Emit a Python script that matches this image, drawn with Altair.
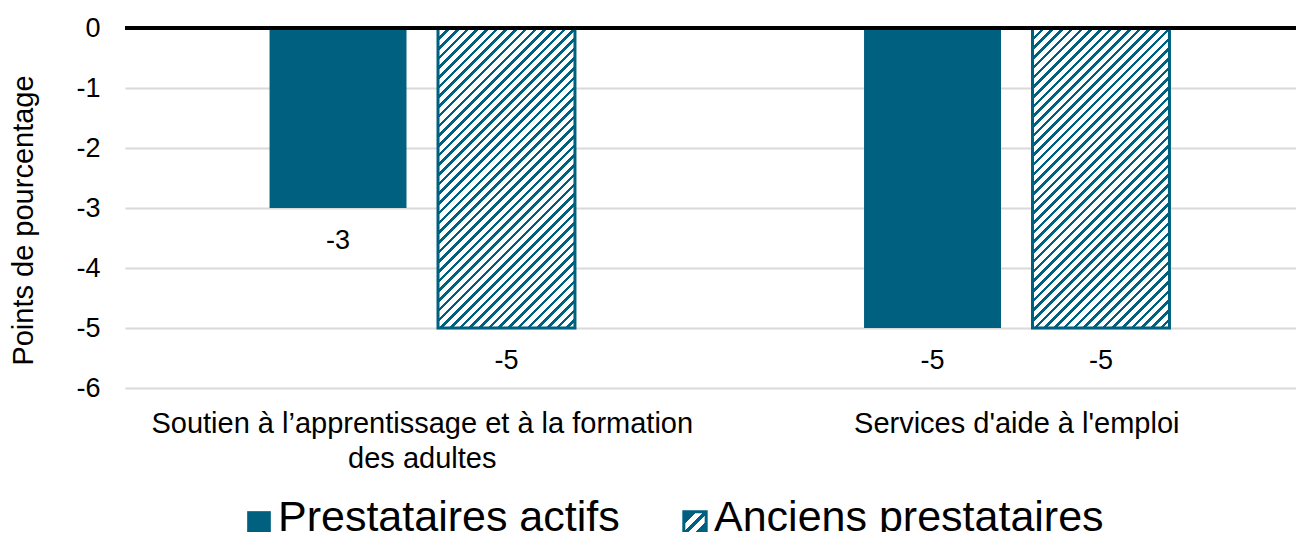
import json
import altair as alt
import pandas as pd

# ---------------- data ----------------
categories = [
    "Soutien à l’apprentissage et à la formation des adultes",
    "Services d'aide à l'emploi",
]
category_lines = [
    ["Soutien à l’apprentissage et à la formation", "des adultes"],
    ["Services d'aide à l'emploi"],
]
series = ["Prestataires actifs", "Anciens prestataires"]
actifs = [-3, -5]
anciens = [-5, -5]
y_ticks = [0, -1, -2, -3, -4, -5, -6]
y_title = "Points de pourcentage"

rows = []
for i, c in enumerate(categories):
    rows.append({"cat": c, "series": series[0], "value": actifs[i]})
    rows.append({"cat": c, "series": series[1], "value": anciens[i]})
df = pd.DataFrame(rows)
leg_df = pd.DataFrame({"series": series})

# ---------------- style ----------------
TEAL = "#00607F"
FONT = "Liberation Sans"
PW, PH = 1171, 360          # plot area
XRANGE = 1189               # band range (chart is cropped on the right)
PAD_IN, PAD_OUT = 0.187, 0.858

band = XRANGE / len(categories)
step = band / (2 - PAD_IN + 2 * PAD_OUT)
BAR_W = step * (1 - PAD_IN)
BAR_H = PH / 6 * 5          # hatched bars all reach -5

# diagonal hatch as a hard-stop linear gradient (45 degrees on screen)
period_px = 9.7
dark = 0.38
period_t = period_px * BAR_W / (BAR_W ** 2 + BAR_H ** 2)
stops = []
k = 0
while k * period_t < 1:
    a = k * period_t
    b = min(1, a + dark * period_t)
    c = min(1, a + period_t)
    stops += [
        {"offset": round(a, 6), "color": TEAL},
        {"offset": round(b, 6), "color": TEAL},
        {"offset": round(b, 6), "color": "#ffffff"},
        {"offset": round(c, 6), "color": "#ffffff"},
    ]
    k += 1
hatch = {"gradient": "linear", "x1": 0, "y1": 0, "x2": 1,
         "y2": BAR_H / BAR_W, "stops": stops}

leg_hatch = {"gradient": "linear", "x1": 0, "y1": 0, "x2": 1, "y2": 1,
             "stops": [
                 {"offset": 0, "color": TEAL}, {"offset": 0.29, "color": TEAL},
                 {"offset": 0.29, "color": "#ffffff"}, {"offset": 0.44, "color": "#ffffff"},
                 {"offset": 0.44, "color": TEAL}, {"offset": 0.56, "color": TEAL},
                 {"offset": 0.56, "color": "#ffffff"}, {"offset": 0.71, "color": "#ffffff"},
                 {"offset": 0.71, "color": TEAL}, {"offset": 1, "color": TEAL},
             ]}

# x labels (multi-line)
expr = "datum.value"
for cat, lines in reversed(list(zip(categories, category_lines))):
    expr = (f"datum.value == {json.dumps(cat, ensure_ascii=False)} ? "
            f"{json.dumps(lines, ensure_ascii=False)} : ({expr})")

x_enc = alt.X(
    "cat:N",
    sort=categories,
    scale=alt.Scale(domain=categories, range=[0, XRANGE], paddingInner=0, paddingOuter=0),
    axis=alt.Axis(title=None, domain=False, ticks=False, grid=False,
                  labelExpr=expr, labelFontSize=29, labelLineHeight=35,
                  labelPadding=21, labelColor="#000000", labelLimit=2000,
                  labelAngle=0, labelFont=FONT),
)
xoff_enc = alt.XOffset(
    "series:N",
    scale=alt.Scale(domain=series, paddingInner=PAD_IN, paddingOuter=PAD_OUT),
)
y_axis = alt.Axis(values=y_ticks, labelExpr="'' + datum.value",
                  title=y_title, titleFontSize=29, titleFontWeight="normal",
                  titleColor="#000000", titlePadding=37, titleFont=FONT,
                  titleY=192,
                  labelFontSize=27, labelColor="#000000", labelPadding=25,
                  labelFont=FONT, domain=False, ticks=False,
                  gridColor="#d9d9d9", gridWidth=2)
y_scale = alt.Scale(domain=[-6, 0], nice=False, zero=False)
y_enc = alt.Y("value:Q", scale=y_scale, axis=y_axis)

base = alt.Chart(df)

solid = base.transform_filter(alt.datum.series == series[0]).mark_bar(
    color=TEAL
).encode(x=x_enc, xOffset=xoff_enc, y=y_enc)

hatched = base.transform_filter(alt.datum.series == series[1]).mark_bar(
    fill=hatch, stroke=TEAL, strokeWidth=3
).encode(x=x_enc, xOffset=xoff_enc, y=y_enc)

labels = base.transform_calculate(label="'' + datum.value").mark_text(
    baseline="middle", align="center", dy=33, fontSize=27, font=FONT, color="#000000"
).encode(x=x_enc, xOffset=xoff_enc, y=y_enc, text="label:N")

zero = base.mark_rule(color="#000000", strokeWidth=3.5).encode(
    y=alt.Y(datum=0, scale=y_scale, axis=y_axis)
)

main = alt.layer(solid, hatched, labels, zero)

# ---------------- legend ----------------
LEG_Y = 495
leg_x = alt.X("series:N", sort=series,
              scale=alt.Scale(type="point", domain=series, range=[134, 570], padding=0),
              axis=None)
leg_base = alt.Chart(leg_df)
leg_solid = leg_base.transform_filter(alt.datum.series == series[0]).mark_square(
    size=560, fill=TEAL, opacity=1, strokeWidth=0
).encode(x=leg_x, y=alt.value(LEG_Y))
leg_hatched = leg_base.transform_filter(alt.datum.series == series[1]).mark_square(
    size=500, fill=leg_hatch, stroke=TEAL, strokeWidth=3, opacity=1
).encode(x=leg_x, y=alt.value(LEG_Y))
leg_text = leg_base.mark_text(
    align="left", baseline="alphabetic", dx=19, dy=8, fontSize=43, font=FONT, color="#000000"
).encode(x=leg_x, y=alt.value(LEG_Y), text="series:N")
legend = alt.layer(leg_solid, leg_hatched, leg_text)

chart = alt.layer(main, legend).resolve_scale(x="independent").properties(
    width=PW, height=PH,
    autosize=alt.AutoSizeParams(type="none"),
    padding={"left": 117, "top": 20, "right": 0, "bottom": 144},
).configure(font=FONT).configure_view(stroke=None)

chart.save("out.html", embed_options={"renderer": "svg", "actions": False})
